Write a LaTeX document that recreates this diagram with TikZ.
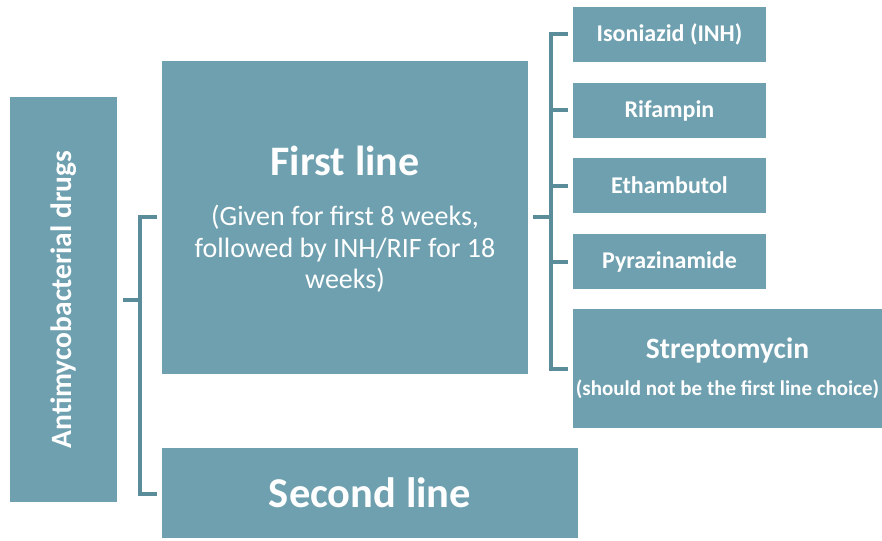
\documentclass[tikz,border=0pt]{standalone}
\usepackage{fontspec}
\setmainfont{Carlito}
\usetikzlibrary{calc}
\definecolor{boxfill}{HTML}{6FA0B0}
\definecolor{connc}{HTML}{5B8C9A}
\begin{document}
\begin{tikzpicture}[x=1pt,y=-1pt,
  box/.style={fill=boxfill,draw=none,inner sep=0pt,text=white,align=center},
  conn/.style={draw=connc,line width=4pt,line cap=butt,line join=miter},
  lbl/.style={text=white,inner sep=0pt,align=center}]
\useasboundingbox (0,0) rectangle (882,540);
% boxes
\node[box,minimum width=107pt,minimum height=405pt] (root) at (63.5,299.5) {};
\node[lbl,rotate=90,font=\fontsize{29.5}{34}\selectfont\bfseries] (roott) at (root.center) {Antimycobacterial drugs};
\node[box,minimum width=366pt,minimum height=313pt] (first) at (345,217.5) {};
\node[lbl,font=\fontsize{42}{48}\selectfont\bfseries] (firstt) at (345,161) {First line};
\node[lbl,font=\fontsize{28}{31.5}\selectfont] (firstd) at (345,249) {(Given for first 8 weeks,\\followed by INH/RIF for 18\\weeks)};
\node[box,minimum width=416pt,minimum height=90pt,font=\fontsize{42.5}{48}\selectfont\bfseries] (second) at (370,493) {Second line};
\node[box,minimum width=193pt,minimum height=55pt,font=\fontsize{24}{28}\selectfont\bfseries] (inh) at (669.5,34.5) {Isoniazid (INH)};
\node[box,minimum width=193pt,minimum height=55pt,font=\fontsize{24}{28}\selectfont\bfseries] (rif) at (669.5,110.5) {Rifampin};
\node[box,minimum width=193pt,minimum height=55pt,font=\fontsize{24}{28}\selectfont\bfseries] (emb) at (669.5,185.5) {Ethambutol};
\node[box,minimum width=193pt,minimum height=55pt,font=\fontsize{24}{28}\selectfont\bfseries] (pza) at (669.5,261.5) {Pyrazinamide};
\node[box,minimum width=309pt,minimum height=119pt] (sm) at (727.5,368.5) {};
\node[lbl,font=\fontsize{29.5}{34}\selectfont\bfseries] (smt) at (727.5,350) {Streptomycin};
\node[lbl,font=\fontsize{21}{24}\selectfont\bfseries] (smd) at (727.5,389) {(should not be the first line choice)};
% left bracket
\coordinate (lb) at (140,299.5);
\draw[conn] ([xshift=6pt]root.east) -- (lb);
\draw[conn] ([xshift=-5pt]first.west |- 0,217) -| (lb) |- ([xshift=-5pt]second.west |- 0,494);
% right bracket
\coordinate (rb) at (551,217);
\draw[conn] ([xshift=5pt]first.east |- rb) -- (rb);
\draw[conn] ([xshift=-5pt]inh.west) -| (rb) |- ([xshift=-5pt]sm.west);
\draw[conn] (551,110.5) -- ([xshift=-5pt]rif.west);
\draw[conn] (551,185.5) -- ([xshift=-5pt]emb.west);
\draw[conn] (551,261.5) -- ([xshift=-5pt]pza.west);
\end{tikzpicture}
\end{document}
